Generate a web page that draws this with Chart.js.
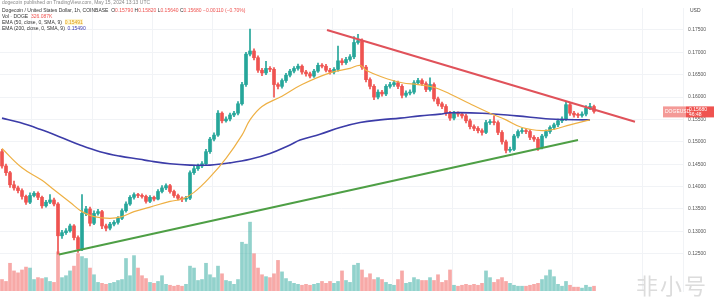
<!DOCTYPE html>
<html lang="en">
<head>
    <meta charset="UTF-8">
    <title>DOGE / USD 1h</title>
    <script src="https://cdn.jsdelivr.net/npm/chart.js"></script>
    <style>
        body {
            margin: 0;
            padding: 0;
            background-color: #ffffff;
            font-family: Arial, "Liberation Sans", sans-serif;
        }
        .wrap {
            position: relative;
            width: 719px;
            height: 299px;
            overflow: hidden;
        }
        canvas { position: absolute; left: 0; top: 0; }
        .head {
            position: absolute;
            left: 2px;
            font-size: 5px;
            line-height: 6px;
            color: #333;
            white-space: nowrap;
        }
        .up { color: #26a69a; }
        .dn { color: #ef5350; }
        .usd {
            position: absolute;
            left: 690px;
            top: 7px;
            font-size: 5px;
            color: #444;
        }
        .mark {
            position: absolute;
            left: 636px;
            top: 268px;
            font-family: "Noto Sans CJK SC", sans-serif;
            font-size: 22px;
            color: #dcdcdc;
            letter-spacing: 2px;
        }
    </style>
</head>
<body>
<div class="wrap">
    <canvas id="dogeChart" width="719" height="299"></canvas>
    <div class="head" style="top:-1px;color:#888">dogecoin published on TradingView.com, May 15, 2024 13:13 UTC</div>
    <div class="head" style="top:7px">Dogecoin / United States Dollar, 1h, COINBASE &nbsp;O<span class="dn">0.15790</span> H<span class="dn">0.15820</span> L<span class="dn">0.15640</span> C<span class="dn">0.15680</span> <span class="dn">−0.00110 (−0.70%)</span></div>
    <div class="head" style="top:13px">Vol · DOGE &nbsp;<span class="dn">326.087K</span></div>
    <div class="head" style="top:19px">EMA (50, close, 0, SMA, 9) &nbsp;<span style="color:#e0a020;background:#fff6d0">0.15491</span></div>
    <div class="head" style="top:25px">EMA (200, close, 0, SMA, 9) &nbsp;<span style="color:#3b3bb0">0.15490</span></div>
    <div class="usd">USD</div>
    <div class="mark">非小号</div>
</div>

<script>
    // hourly candles (price in USD)
    const firstOpen = 0.1478;
    const closes = [
        0.1446, 0.1431, 0.1404, 0.1397, 0.1391, 0.1378, 0.1365, 0.1380, 0.1385, 0.1376,
        0.1357, 0.1365, 0.1370, 0.1361, 0.1290, 0.1297, 0.1301, 0.1312, 0.1286, 0.1260,
        0.1340, 0.1350, 0.1318, 0.1340, 0.1344, 0.1312, 0.1307, 0.1316, 0.1320, 0.1329,
        0.1346, 0.1361, 0.1376, 0.1382, 0.1380, 0.1378, 0.1367, 0.1376, 0.1372, 0.1389,
        0.1397, 0.1402, 0.1389, 0.1380, 0.1374, 0.1372, 0.1374, 0.1431, 0.1440, 0.1446,
        0.1451, 0.1478, 0.1506, 0.1515, 0.1564, 0.1547, 0.1551, 0.1560, 0.1564, 0.1585,
        0.1628, 0.1696, 0.1703, 0.1688, 0.1660, 0.1654, 0.1664, 0.1662, 0.1628, 0.1624,
        0.1637, 0.1649, 0.1658, 0.1664, 0.1669, 0.1656, 0.1652, 0.1647, 0.1658, 0.1671,
        0.1669, 0.1660, 0.1656, 0.1662, 0.1681, 0.1677, 0.1684, 0.1690, 0.1722, 0.1726,
        0.1667, 0.1639, 0.1624, 0.1600, 0.1611, 0.1607, 0.1624, 0.1628, 0.1632, 0.1624,
        0.1604, 0.1609, 0.1611, 0.1632, 0.1637, 0.1630, 0.1617, 0.1628, 0.1596, 0.1585,
        0.1579, 0.1564, 0.1553, 0.1564, 0.1562, 0.1558, 0.1547, 0.1534, 0.1530, 0.1525,
        0.1521, 0.1543, 0.1545, 0.1543, 0.1521, 0.1500, 0.1481, 0.1483, 0.1513, 0.1523,
        0.1525, 0.1523, 0.1510, 0.1506, 0.1487, 0.1513, 0.1523, 0.1532, 0.1538, 0.1547,
        0.1551, 0.1583, 0.1564, 0.1560, 0.1559, 0.1562, 0.1575, 0.1579, 0.1568
    ];
    const highs = [
        0.1483, 0.1450, 0.1434, 0.1412, 0.1401, 0.1395, 0.1381, 0.1386, 0.1389, 0.1388,
        0.1379, 0.1369, 0.1382, 0.1374, 0.1364, 0.1302, 0.1306, 0.1316, 0.1315, 0.1290,
        0.1382, 0.1356, 0.1354, 0.1346, 0.1349, 0.1347, 0.1316, 0.1320, 0.1324, 0.1333,
        0.1350, 0.1366, 0.1380, 0.1386, 0.1385, 0.1384, 0.1381, 0.1380, 0.1379, 0.1393,
        0.1402, 0.1406, 0.1405, 0.1392, 0.1383, 0.1377, 0.1378, 0.1435, 0.1446, 0.1450,
        0.1456, 0.1483, 0.1510, 0.1520, 0.1570, 0.1567, 0.1556, 0.1564, 0.1568, 0.1590,
        0.1633, 0.1700, 0.1752, 0.1708, 0.1692, 0.1664, 0.1680, 0.1668, 0.1666, 0.1632,
        0.1641, 0.1653, 0.1662, 0.1668, 0.1674, 0.1672, 0.1660, 0.1656, 0.1662, 0.1676,
        0.1675, 0.1673, 0.1664, 0.1666, 0.1714, 0.1686, 0.1689, 0.1695, 0.1735, 0.1740,
        0.1730, 0.1671, 0.1643, 0.1628, 0.1616, 0.1615, 0.1628, 0.1633, 0.1637, 0.1636,
        0.1628, 0.1614, 0.1616, 0.1637, 0.1642, 0.1641, 0.1634, 0.1643, 0.1632, 0.1600,
        0.1589, 0.1583, 0.1568, 0.1568, 0.1567, 0.1566, 0.1562, 0.1551, 0.1538, 0.1534,
        0.1529, 0.1548, 0.1550, 0.1558, 0.1547, 0.1525, 0.1504, 0.1488, 0.1517, 0.1527,
        0.1530, 0.1530, 0.1527, 0.1514, 0.1510, 0.1517, 0.1527, 0.1536, 0.1542, 0.1551,
        0.1556, 0.1588, 0.1587, 0.1568, 0.1564, 0.1567, 0.1581, 0.1586, 0.1582
    ];
    const lows = [
        0.1441, 0.1425, 0.1398, 0.1392, 0.1386, 0.1372, 0.1360, 0.1362, 0.1377, 0.1371,
        0.1352, 0.1354, 0.1362, 0.1357, 0.1249, 0.1284, 0.1293, 0.1298, 0.1281, 0.1253,
        0.1257, 0.1335, 0.1312, 0.1315, 0.1336, 0.1306, 0.1301, 0.1303, 0.1312, 0.1316,
        0.1326, 0.1343, 0.1358, 0.1372, 0.1375, 0.1374, 0.1363, 0.1364, 0.1368, 0.1370,
        0.1386, 0.1393, 0.1385, 0.1376, 0.1370, 0.1366, 0.1367, 0.1371, 0.1427, 0.1436,
        0.1442, 0.1448, 0.1474, 0.1502, 0.1512, 0.1542, 0.1544, 0.1547, 0.1556, 0.1560,
        0.1582, 0.1624, 0.1692, 0.1683, 0.1655, 0.1648, 0.1650, 0.1657, 0.1600, 0.1618,
        0.1620, 0.1633, 0.1645, 0.1654, 0.1660, 0.1651, 0.1647, 0.1643, 0.1644, 0.1655,
        0.1665, 0.1656, 0.1651, 0.1652, 0.1658, 0.1672, 0.1673, 0.1680, 0.1686, 0.1718,
        0.1662, 0.1634, 0.1618, 0.1594, 0.1596, 0.1602, 0.1603, 0.1620, 0.1624, 0.1619,
        0.1598, 0.1600, 0.1605, 0.1607, 0.1628, 0.1626, 0.1612, 0.1613, 0.1591, 0.1580,
        0.1574, 0.1559, 0.1548, 0.1549, 0.1557, 0.1553, 0.1542, 0.1529, 0.1525, 0.1520,
        0.1515, 0.1518, 0.1539, 0.1538, 0.1516, 0.1495, 0.1475, 0.1477, 0.1480, 0.1509,
        0.1519, 0.1518, 0.1505, 0.1501, 0.1481, 0.1484, 0.1509, 0.1519, 0.1528, 0.1534,
        0.1543, 0.1548, 0.1559, 0.1555, 0.1554, 0.1555, 0.1558, 0.1572, 0.1564
    ];
    // volume in millions of DOGE
    const volumes = [
        1.2, 1.0, 2.9, 2.1, 1.9, 2.2, 2.5, 2.4, 1.2, 1.4,
        1.3, 1.4, 1.0, 0.9, 4.1, 1.4, 1.6, 2.1, 2.6, 3.9,
        3.6, 3.4, 2.4, 1.7, 0.9, 0.8, 0.7, 0.8, 0.9, 1.1,
        1.2, 3.4, 1.6, 3.7, 2.4, 1.6, 1.3, 0.9, 0.8, 1.0,
        1.6, 0.7, 0.6, 0.5, 0.6, 0.5, 0.7, 2.6, 2.4, 1.1,
        1.2, 2.9, 1.7, 1.4, 2.6, 1.8, 1.1, 1.0, 0.7, 1.2,
        5.1, 4.9, 7.2, 3.9, 2.4, 1.7, 1.5, 1.4, 1.8, 3.2,
        2.0, 1.3, 1.0, 0.8, 0.7, 0.6, 0.7, 0.6, 0.7, 0.8,
        1.0, 0.8, 1.0, 0.8, 1.0, 2.1, 1.1, 0.9, 2.7, 2.9,
        2.2, 1.4, 1.8, 1.2, 1.4, 1.2, 0.9, 0.7, 0.6, 1.2,
        2.1, 0.8, 0.9, 1.4, 1.2, 1.1, 1.1, 1.4, 1.1, 1.7,
        0.9, 1.1, 2.2, 0.6, 0.5, 0.6, 0.7, 0.6, 0.7, 0.6,
        0.8, 2.1, 1.4, 0.9, 1.2, 1.4, 1.0, 0.8, 0.6, 0.5,
        0.5, 0.5, 0.6, 0.7, 0.8, 1.2, 1.6, 2.2, 1.5, 0.7,
        0.5, 1.0, 0.6, 0.4, 0.4, 0.3, 0.6, 0.4, 0.5
    ];

    // EMA lines, sampled along the candle index
    const emaFastX = [0, 5, 10, 13, 17, 20, 23, 27, 30, 33, 37, 42, 45, 48, 52, 56, 60, 62, 65, 70, 75, 82, 87, 89.5, 91, 95, 100, 104, 108, 112, 117, 122, 126, 130, 135, 138, 142, 147];
    const emaFastY = [0.1485, 0.1442, 0.1414, 0.1393, 0.1365, 0.1344, 0.1333, 0.1329, 0.1333, 0.1344, 0.1354, 0.1367, 0.1372, 0.1387, 0.1421, 0.1463, 0.1515, 0.1549, 0.1579, 0.1602, 0.1628, 0.1654, 0.1664, 0.1671, 0.1660, 0.1645, 0.1632, 0.1628, 0.1622, 0.1607, 0.1585, 0.1564, 0.1549, 0.1532, 0.1525, 0.1528, 0.1538, 0.1549];
    const emaSlowX = [0, 4.5, 9.5, 14.5, 19.5, 24.5, 29.5, 34.5, 37, 42, 47, 52, 57, 62, 67, 72, 74.5, 79.5, 84.5, 89.5, 94.5, 99.5, 104.5, 109.5, 112, 120, 128.7, 137, 147];
    const emaSlowY = [0.1553, 0.1543, 0.1528, 0.1511, 0.1493, 0.1478, 0.1468, 0.1461, 0.1457, 0.1451, 0.1448, 0.1448, 0.1453, 0.1461, 0.1474, 0.1493, 0.1504, 0.1517, 0.1532, 0.1543, 0.1549, 0.1553, 0.1558, 0.1562, 0.1565, 0.1564, 0.1558, 0.1551, 0.1549];

    // drawn trend lines (start and end)
    const resistX = [81.25, 158.25];
    const resistY = [0.1750, 0.1545];
    const supportX = [14.25, 144];
    const supportY = [0.1248, 0.1504];

    const priceTicks = [0.125, 0.130, 0.135, 0.140, 0.145, 0.150, 0.155, 0.160, 0.165, 0.170, 0.175];

    const upColor = '#26a69a';
    const downColor = '#ef5350';

    const opens = closes.map((c, i) => i === 0 ? firstOpen : closes[i - 1]);
    const isUp = closes.map((c, i) => c >= opens[i]);

    const wickData = closes.map((c, i) => ({ x: i, y: [lows[i], highs[i]] }));
    const bodyData = closes.map((c, i) => ({ x: i, y: [opens[i], c] }));
    const volData = volumes.map((v, i) => ({ x: i, y: v }));
    const candleColors = isUp.map(u => u ? upColor : downColor);
    const volColors = isUp.map(u => u ? 'rgba(38,166,154,0.5)' : 'rgba(239,83,80,0.5)');

    const toPoints = (xs, ys) => xs.map((x, i) => ({ x: x, y: ys[i] }));

    // last price tag on the price scale
    const lastPriceTag = {
        id: 'lastPriceTag',
        afterDraw(chart) {
            const ctx = chart.ctx;
            const last = closes[closes.length - 1];
            const y = chart.scales.y.getPixelForValue(last);
            ctx.save();
            ctx.fillStyle = '#f49a97';
            ctx.fillRect(663, y - 5, 23, 11);
            ctx.fillStyle = downColor;
            ctx.fillRect(686, y - 5, 28, 11);
            ctx.fillStyle = '#ffffff';
            ctx.font = '5px Arial';
            ctx.textBaseline = 'middle';
            ctx.fillText('DOGEUSD', 665, y);
            ctx.fillText(last.toFixed(5), 689, y - 2);
            ctx.fillText('46:48', 689, y + 3);
            ctx.restore();
        }
    };

    const ctx = document.getElementById('dogeChart').getContext('2d');
    new Chart(ctx, {
        type: 'bar',
        data: {
            datasets: [
                {
                    type: 'line',
                    data: toPoints(resistX, resistY),
                    borderColor: '#e0525a',
                    borderWidth: 2,
                    pointRadius: 0,
                    yAxisID: 'y'
                },
                {
                    type: 'line',
                    data: toPoints(supportX, supportY),
                    borderColor: '#4e9f45',
                    borderWidth: 2,
                    pointRadius: 0,
                    yAxisID: 'y'
                },
                {
                    type: 'line',
                    data: toPoints(emaFastX, emaFastY),
                    borderColor: '#eeb044',
                    borderWidth: 1.2,
                    pointRadius: 0,
                    tension: 0.4,
                    yAxisID: 'y'
                },
                {
                    type: 'line',
                    data: toPoints(emaSlowX, emaSlowY),
                    borderColor: '#3c3ca8',
                    borderWidth: 1.6,
                    pointRadius: 0,
                    tension: 0.4,
                    yAxisID: 'y'
                },
                {
                    data: bodyData,
                    backgroundColor: candleColors,
                    barThickness: 3,
                    minBarLength: 1,
                    grouped: false,
                    yAxisID: 'y'
                },
                {
                    data: wickData,
                    backgroundColor: candleColors,
                    barThickness: 1,
                    grouped: false,
                    yAxisID: 'y'
                },
                {
                    data: volData,
                    backgroundColor: volColors,
                    barThickness: 3,
                    grouped: false,
                    yAxisID: 'vol'
                }
            ]
        },
        options: {
            responsive: false,
            animation: false,
            layout: { padding: 0 },
            plugins: {
                legend: { display: false },
                tooltip: { enabled: false }
            },
            scales: {
                x: {
                    type: 'linear',
                    offset: false,
                    min: -0.5,
                    max: 170.25,
                    ticks: { display: false, stepSize: 15 },
                    grid: { color: '#f1f3f6', drawTicks: false },
                    border: { display: false },
                    afterFit: s => { s.height = 3; }
                },
                y: {
                    position: 'right',
                    min: 0.11666,
                    max: 0.17991,
                    afterBuildTicks: axis => { axis.ticks = priceTicks.map(v => ({ value: v })); },
                    afterFit: s => { s.width = 36; },
                    ticks: {
                        color: '#555',
                        font: { size: 5, family: 'Arial' },
                        padding: 5,
                        callback: v => v.toFixed(5)
                    },
                    grid: { color: '#f1f3f6', drawTicks: false },
                    border: { display: true, color: '#f1f3f6' }
                },
                vol: {
                    display: false,
                    min: 0,
                    max: 29.6
                }
            }
        },
        plugins: [lastPriceTag]
    });
</script>
</body>
</html>
